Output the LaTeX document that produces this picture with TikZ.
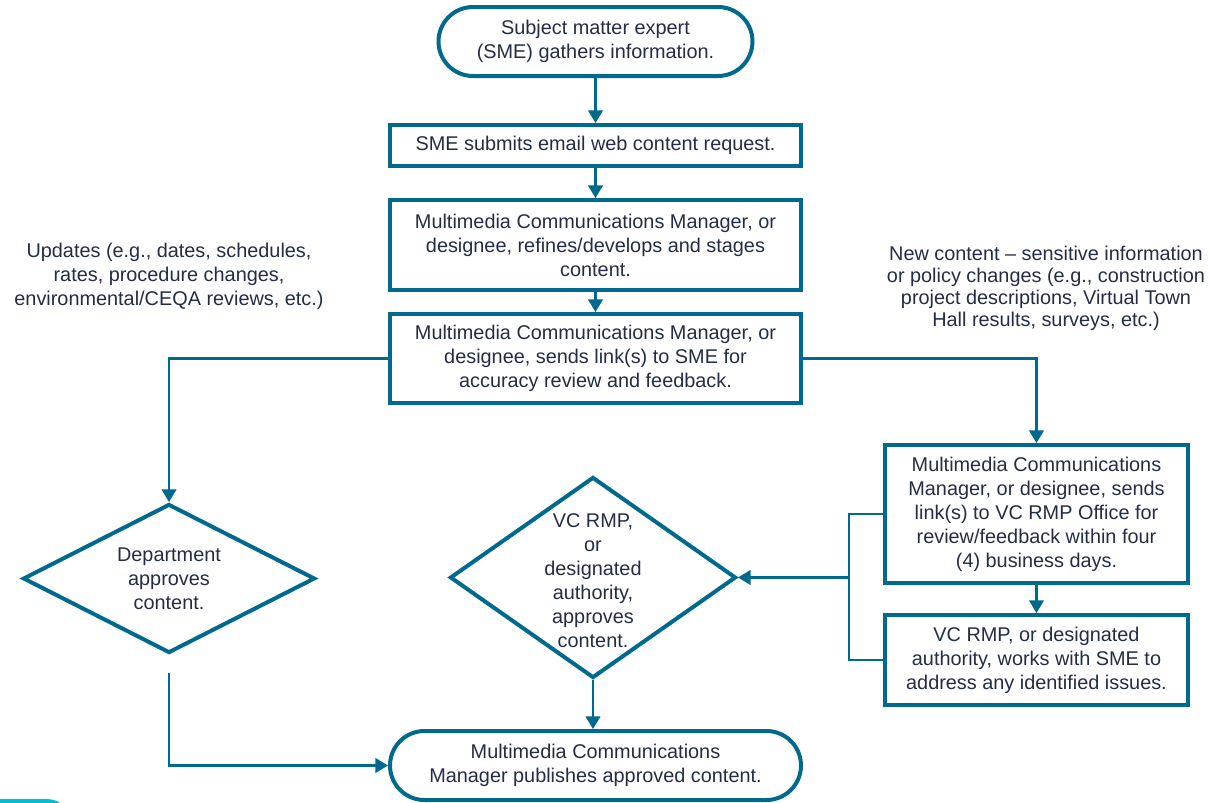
\documentclass[tikz,border=0pt]{standalone}
\usepackage{fontspec}
\setmainfont{Liberation Sans}
\usetikzlibrary{shapes.geometric,shapes.misc,arrows.meta}
\definecolor{ln}{RGB}{0,106,142}
\definecolor{tx}{RGB}{35,45,70}
\definecolor{cyanart}{RGB}{0,190,210}
\newcommand\pxu{0.75pt}
\begin{document}
\begin{tikzpicture}[x=0.75pt,y=-0.75pt,
  txt/.style={text=tx,font=\fontsize{14.9}{18}\selectfont,align=center},
  box/.style={txt,draw=ln,line width=3pt,inner sep=0pt,rectangle},
  stad/.style={txt,draw=ln,line width=3pt,inner sep=0pt,rounded rectangle},
  dia/.style={draw=ln,line width=3pt,diamond,inner sep=0pt},
  conn/.style={draw=ln,line width=1.6pt},
  arr/.style={conn,-{Triangle[width=11pt,length=9.5pt]}}
]
\useasboundingbox (0,0) rectangle (1211,803);

\node[stad,minimum width=314*\pxu,minimum height=69*\pxu] (top) at (595.5,41.5)
  {Subject matter expert\\(SME) gathers information.};
\node[box,minimum width=411*\pxu,minimum height=41*\pxu] (b2) at (595.5,145.5)
  {SME submits email web content request.};
\node[box,minimum width=411*\pxu,minimum height=90*\pxu] (b3) at (595.5,245)
  {Multimedia Communications Manager, or\\designee, refines/develops and stages\\content.};
\node[box,minimum width=411*\pxu,minimum height=89*\pxu] (b4) at (595.5,358.5)
  {Multimedia Communications Manager, or\\designee, sends link(s) to SME for\\accuracy review and feedback.};
\node[box,minimum width=303*\pxu,minimum height=138*\pxu] (rb1) at (1036.5,514)
  {Multimedia Communications\\Manager, or designee, sends\\link(s) to VC RMP Office for\\review/feedback within four\\(4) business days.};
\node[box,minimum width=303*\pxu,minimum height=90*\pxu] (rb2) at (1036.5,660)
  {VC RMP, or designated\\authority, works with SME to\\address any identified issues.};
\node[stad,minimum width=411*\pxu,minimum height=69*\pxu] (bot) at (595.5,765.5)
  {Multimedia Communications\\Manager publishes approved content.};

\node[dia,minimum width=292*\pxu,minimum height=149*\pxu,
  label={[txt]center:Department\\approves\\content.}] (ldia) at (169,578.5) {};
\node[dia,minimum width=286*\pxu,minimum height=201*\pxu,
  label={[txt,yshift=-2pt]center:VC RMP,\\or\\designated\\authority,\\approves\\content.}] (rdia) at (593,577.5) {};

\node[txt] (llab) at (169,276)
  {Updates (e.g., dates, schedules,\\rates, procedure changes,\\environmental/CEQA reviews, etc.)};
\node[txt,font=\fontsize{14.9}{16.5}\selectfont] (rlab) at (1046,288)
  {New content -- sensitive information\\or policy changes (e.g., construction\\project descriptions, Virtual Town\\Hall results, surveys, etc.)};

\draw[arr] (top.south) -- (b2.north);
\draw[arr] (b2.south) -- (b3.north);
\draw[arr] (b3.south) -- (b4.north);
\draw[arr] (b4.west) -| (ldia.north);
\draw[arr] (b4.east) -| (rb1.north);
\draw[arr] (rb1.south) -- (rb2.north);
\coordinate (bx) at (849,577.5);
\draw[conn] (rb1.west) -| (bx) |- (rb2.west);
\draw[arr] (bx) -- (rdia.east);
\draw[arr] (rdia.south) -- (rdia.south |- bot.north);
\coordinate (lgap) at (169,673);
\draw[arr] (lgap) |- (bot.west);

\fill[cyanart] (0,799) -- (46,799) .. controls (53,799) and (57,801) .. (60,803) -- (0,803) -- cycle;
\end{tikzpicture}
\end{document}
